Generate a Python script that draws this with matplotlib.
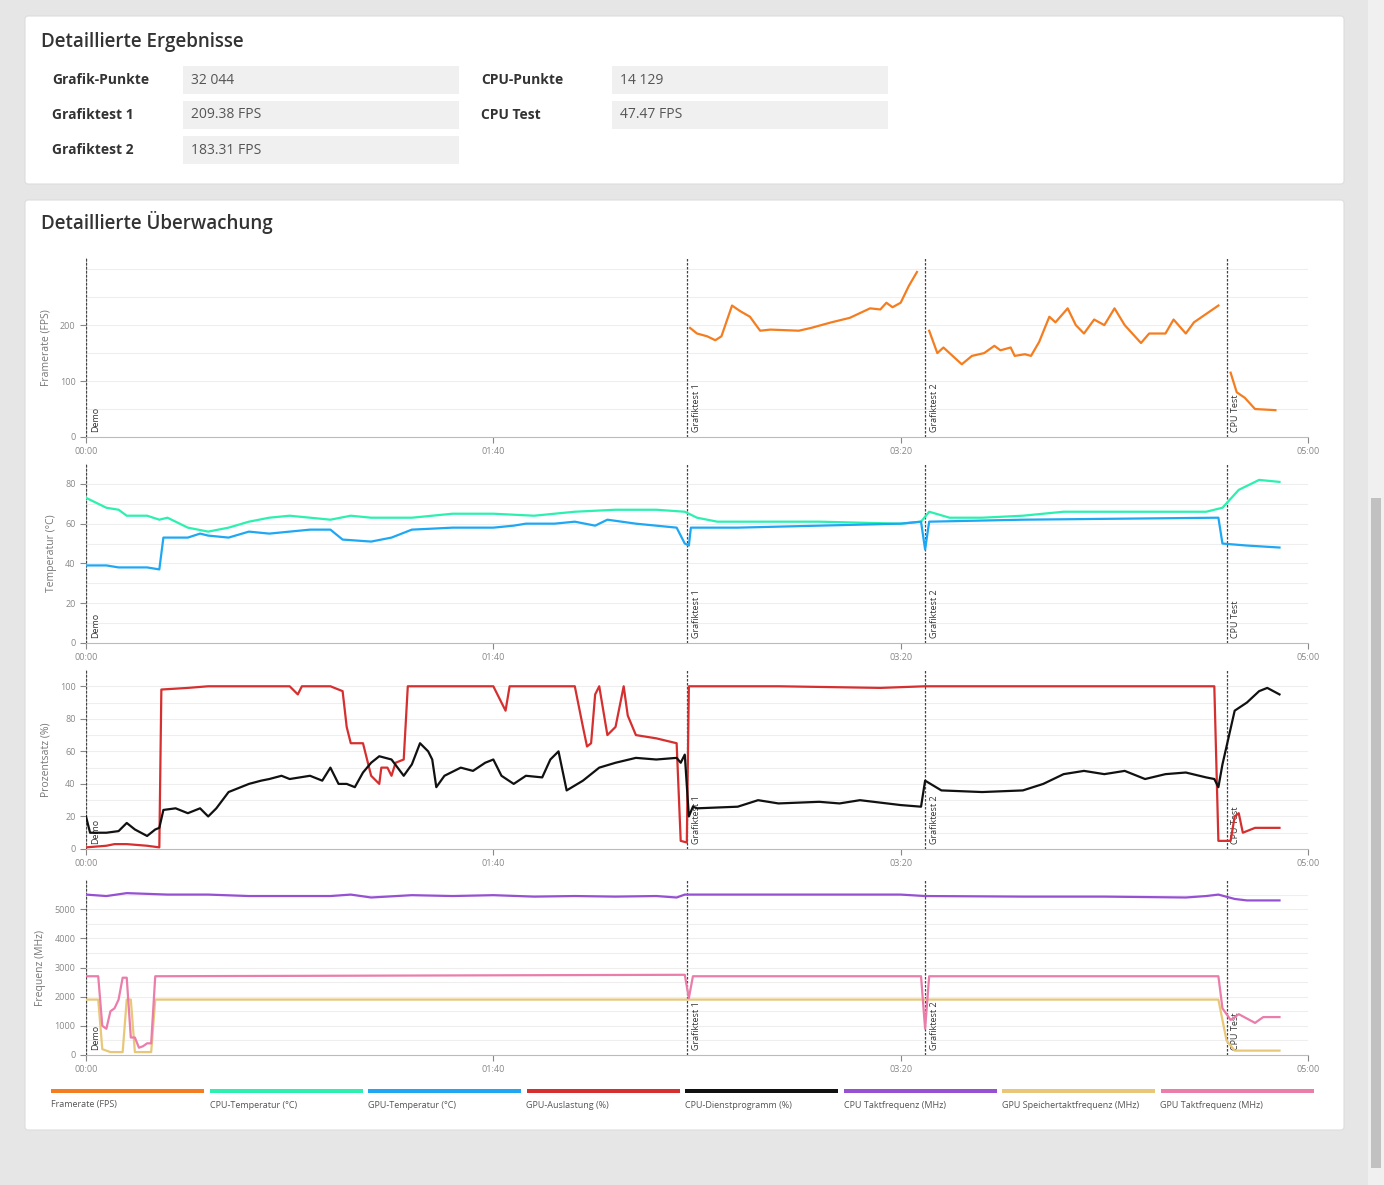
import numpy as np
import matplotlib
matplotlib.use("Agg")
import matplotlib.pyplot as plt
from matplotlib.patches import FancyBboxPatch, Rectangle

plt.rcParams['font.family'] = ['Open Sans', 'DejaVu Sans']

W, H = 1384, 1185

# --- results table ---
results_left = [("Grafik-Punkte", "32 044"), ("Grafiktest 1", "209.38 FPS"), ("Grafiktest 2", "183.31 FPS")]
results_right = [("CPU-Punkte", "14 129"), ("CPU Test", "47.47 FPS")]

# --- test markers (seconds) ---
marker_t = [0, 147.5, 206, 280]
marker_names = ["Demo", "Grafiktest 1", "Grafiktest 2", "CPU Test"]

# --- series: (time s, value) ---
fps_t = [148.3, 150, 152.5, 154.5, 156, 158.6, 160.6, 163, 165.5, 168, 175, 178, 183, 187.5, 192.5, 195, 196.5, 198, 200, 202, 204,
         None,
         207, 209, 210.5, 213.5, 215, 217.5, 220.5, 223, 224.5, 227, 228, 230.5, 232, 234, 236.5, 238, 241, 243, 245, 247.5, 250,
         252.5, 255, 259, 261, 265, 267, 270, 272, 278,
         None,
         281, 282.5, 284.5, 287, 292]
fps_v = [195, 185, 180, 173, 180, 235, 225, 215, 190, 192, 190, 195, 205, 213, 230, 228, 240, 232, 240, 270, 295,
         None,
         190, 150, 160, 140, 130, 145, 150, 163, 155, 160, 145, 148, 145, 170, 215, 205, 230, 200, 185, 210, 200,
         230, 200, 168, 185, 185, 210, 185, 205, 235,
         None,
         115, 80, 70, 50, 48]

cput_t = [0, 5, 8, 10, 15, 18, 20, 25, 30, 35, 40, 45, 50, 55, 60, 65, 70, 80, 90, 100, 110, 120, 130, 140, 147, 150, 155, 165,
          180, 200, 205, 207, 212, 220, 230, 240, 260, 275, 279, 283, 288, 293]
cput_v = [73, 68, 67, 64, 64, 62, 63, 58, 56, 58, 61, 63, 64, 63, 62, 64, 63, 63, 65, 65, 64, 66, 67, 67, 66, 63, 61, 61,
          61, 60, 61, 66, 63, 63, 64, 66, 66, 66, 68, 77, 82, 81]
gput_t = [0, 5, 8, 15, 18, 19, 25, 28, 30, 35, 40, 45, 50, 55, 60, 63, 70, 75, 80, 90, 100, 105, 108, 115, 120, 125, 128, 135,
          140, 145, 147, 148, 148.5, 160, 180, 200, 205, 206, 207, 230, 278, 279, 285, 293]
gput_v = [39, 39, 38, 38, 37, 53, 53, 55, 54, 53, 56, 55, 56, 57, 57, 52, 51, 53, 57, 58, 58, 59, 60, 60, 61, 59, 62, 60,
          59, 58, 50, 49, 58, 58, 59, 60, 61, 47, 61, 62, 63, 50, 49, 48]

gpul_t = [0, 5, 7, 10, 15, 18, 18.5, 25, 30, 50, 52, 53, 60, 63, 64, 65, 68, 70, 72, 72.5, 74, 75, 76, 78, 79, 82, 100, 102, 103,
          104, 120, 122, 123, 124, 125, 126, 127, 128, 130, 132, 133, 135, 140, 145, 146, 147.5, 148, 170, 195, 206, 277, 278,
          281, 282, 283, 284, 287, 293]
gpul_v = [1, 2, 3, 3, 2, 1, 98, 99, 100, 100, 95, 100, 100, 97, 75, 65, 65, 45, 40, 50, 50, 45, 53, 55, 100, 100, 100, 90, 85,
          100, 100, 75, 63, 65, 95, 100, 85, 70, 75, 100, 82, 70, 68, 65, 5, 4, 100, 100, 99, 100, 100, 5,
          5, 20, 22, 10, 13, 13]
cpuu_t = [0, 1, 3, 5, 8, 10, 12, 15, 17, 18, 19, 22, 25, 28, 30, 32, 35, 40, 43, 45, 48, 50, 55, 58, 60, 62, 64, 66, 68, 70, 72,
          75, 78, 80, 82, 84, 85, 86, 88, 92, 95, 98, 100, 102, 105, 108, 112, 114, 116, 118, 122, 126, 130, 135, 140, 145, 146,
          147, 148, 149, 150, 160, 165, 170, 180, 185, 190, 200, 205, 206, 210, 220, 230, 235, 240, 245, 250, 255, 260, 265,
          270, 275, 277, 278, 279, 282, 285, 288, 290, 293]
cpuu_v = [20, 10, 10, 10, 11, 16, 12, 8, 12, 13, 24, 25, 22, 25, 20, 25, 35, 40, 42, 43, 45, 43, 45, 42, 50, 40, 40, 38, 47, 53,
          57, 55, 45, 52, 65, 60, 55, 38, 45, 50, 48, 53, 55, 45, 40, 45, 44, 55, 60, 36, 42, 50, 53, 56, 55, 56, 53,
          58, 20, 26, 25, 26, 30, 28, 29, 28, 30, 27, 26, 42, 36, 35, 36, 40, 46, 48, 46, 48, 43, 46,
          47, 44, 43, 38, 52, 85, 90, 97, 99, 95]

cpuf_t = [0, 5, 10, 20, 30, 40, 50, 60, 65, 70, 80, 90, 100, 110, 120, 130, 140, 145, 147, 150, 200, 206, 230, 250, 270, 275,
          278, 282, 285, 293]
cpuf_v = [5500, 5450, 5550, 5500, 5500, 5450, 5450, 5450, 5500, 5400, 5480, 5450, 5480, 5430, 5450, 5430, 5450, 5400, 5500,
          5500, 5500, 5450, 5430, 5430, 5400, 5450, 5500, 5350, 5300, 5300]
gmem_t = [0, 3, 4, 6, 9, 10, 11, 12, 16, 17, 147, 206, 278, 280, 282, 293]
gmem_v = [1900, 1900, 200, 100, 100, 1900, 1900, 100, 100, 1900, 1900, 1900, 1900, 500, 150, 150]
gclk_t = [0, 3, 4, 5, 6, 7, 8, 9, 10, 11, 12, 13, 14, 15, 16, 17, 147, 148, 149, 205, 206, 207, 278, 279, 281, 283, 285, 287,
          289, 293]
gclk_v = [2700, 2700, 1000, 900, 1500, 1600, 1900, 2650, 2650, 600, 600, 250, 300, 400, 400, 2700, 2750, 1950, 2700, 2700,
          900, 2700, 2700, 1600, 1200, 1400, 1250, 1100, 1300, 1300]

legend_names = ["Framerate (FPS)", "CPU-Temperatur (°C)", "GPU-Temperatur (°C)", "GPU-Auslastung (%)",
                "CPU-Dienstprogramm (%)", "CPU Taktfrequenz (MHz)", "GPU Speichertaktfrequenz (MHz)", "GPU Taktfrequenz (MHz)"]
colors = ["#f47d20", "#2cf0b0", "#1ea8f4", "#d62f2f", "#111111", "#9650d2", "#e8c878", "#ea7daa"]


def to_arr(v):
    return np.array([np.nan if x is None else x for x in v], dtype=float)


fig = plt.figure(figsize=(W / 100, H / 100), dpi=100)
fig.patch.set_facecolor("#e6e6e6")
bg = fig.add_axes([0, 0, 1, 1])
bg.set_xlim(0, W)
bg.set_ylim(H, 0)
bg.axis("off")

# cards
for y0, y1 in [(16, 184), (200, 1130)]:
    bg.add_patch(FancyBboxPatch((25, y0), 1319, y1 - y0, boxstyle="round,pad=0,rounding_size=3",
                                fc="white", ec="#dddddd", lw=0.8))
# scrollbar
bg.add_patch(Rectangle((1368, 0), 16, H, fc="#f0f0f0", ec="none"))
bg.add_patch(Rectangle((1371, 498), 10, 670, fc="#c1c1c1", ec="none"))

bg.text(41, 42, "Detaillierte Ergebnisse", fontsize=13.5, weight="semibold", color="#333333", va="center")
bg.text(41, 222, "Detaillierte Überwachung", fontsize=13.5, weight="semibold", color="#333333", va="center")
for i, (k, v) in enumerate(results_left):
    y = 80 + 35 * i
    bg.text(52, y, k, fontsize=10, weight="bold", color="#333333", va="center")
    bg.add_patch(Rectangle((183, y - 14), 276, 28, fc="#f0f0f0", ec="none"))
    bg.text(191, y, v, fontsize=10, color="#555555", va="center")
for i, (k, v) in enumerate(results_right):
    y = 80 + 35 * i
    bg.text(481, y, k, fontsize=10, weight="bold", color="#333333", va="center")
    bg.add_patch(Rectangle((612, y - 14), 276, 28, fc="#f0f0f0", ec="none"))
    bg.text(620, y, v, fontsize=10, color="#555555", va="center")

# chart panels: (top px, zero px, ymax, grid step, label step, last label, ylabel, series)
panels = [
    (258, 437, 320, 50, 100, 200, "Framerate (FPS)", [(fps_t, fps_v, 0)]),
    (464, 643, 90, 10, 20, 80, "Temperatur (°C)", [(cput_t, cput_v, 1), (gput_t, gput_v, 2)]),
    (670, 849, 110, 10, 20, 100, "Prozentsatz (%)", [(gpul_t, gpul_v, 3), (cpuu_t, cpuu_v, 4)]),
    (880, 1055, 6000, 500, 1000, 5000, "Frequenz (MHz)", [(cpuf_t, cpuf_v, 5), (gmem_t, gmem_v, 6), (gclk_t, gclk_v, 7)]),
]
x0, x1 = 86, 1308
for top, zero, ymax, gstep, lstep, lmax, ylab, series in panels:
    ax = fig.add_axes([x0 / W, 1 - zero / H, (x1 - x0) / W, (zero - top) / H])
    ax.set_xlim(0, 300)
    ax.set_ylim(0, ymax)
    for yg in np.arange(gstep, ymax, gstep):
        ax.axhline(yg, color="#eeeeee", lw=0.8, zorder=0)
    ax.set_yticks(np.arange(0, lmax + 1, lstep))
    ax.set_xticks([0, 100, 200, 300])
    ax.set_xticklabels(["00:00", "01:40", "03:20", "05:00"])
    ax.tick_params(labelsize=6.5, colors="#888888", length=4, width=0.8)
    for s in ["top", "right"]:
        ax.spines[s].set_visible(False)
    for s in ["left", "bottom"]:
        ax.spines[s].set_color("#bbbbbb")
    ax.set_ylabel(ylab, fontsize=7.5, color="#777777", labelpad=6)
    for mt, mn in zip(marker_t, marker_names):
        ax.axvline(mt, color="#444444", lw=0.9, ls=(0, (2, 1.2)), zorder=3)
        ax.text(mt + 1.2, ymax * 0.03, mn, rotation=90, fontsize=6.5, color="#333333", va="bottom", ha="left")
    for t, v, ci in series:
        ax.plot(to_arr(t), to_arr(v), color=colors[ci], lw=1.6, zorder=4)
    ax.patch.set_alpha(0)

# legend
for i, (name, c) in enumerate(zip(legend_names, colors)):
    lx = 51 + 158.5 * i
    bg.add_patch(Rectangle((lx, 1089), 153, 4, fc=c, ec="none"))
    bg.text(lx, 1105, name, fontsize=6.5, color="#555555", va="center")

fig.savefig("out.png", dpi=100)
